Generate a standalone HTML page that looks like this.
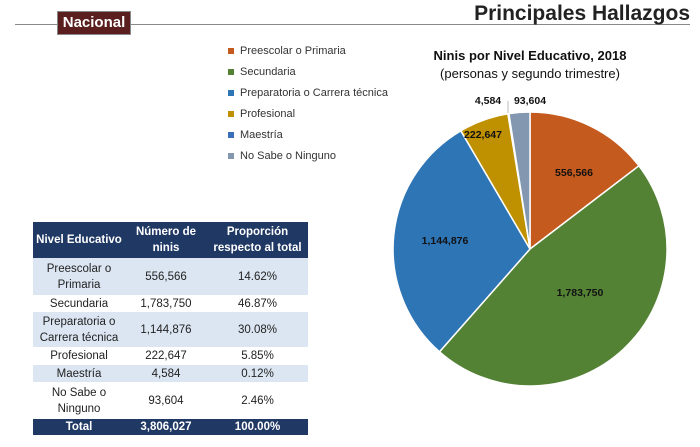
<!DOCTYPE html>
<html><head><meta charset="utf-8"><style>
body{margin:0;width:700px;height:447px;background:#fff;font-family:"Liberation Sans",sans-serif;position:relative;overflow:hidden}
.abs{position:absolute}
table{border-collapse:collapse;font-size:11.5px;color:#222}
td{text-align:center;padding:0;line-height:16px}
</style></head><body>
<div class="abs" style="left:15px;top:24px;width:675px;height:1px;background:#888"></div>
<div class="abs" style="left:57px;top:11px;width:72px;height:22px;background:#5a1e1e;border:1px solid #888;color:#fff;font-weight:bold;font-size:15px;line-height:22px;text-align:center">Nacional</div>
<div class="abs" style="left:440px;top:1px;width:250px;text-align:right;font-size:21px;font-weight:bold;color:#222;line-height:26px">Principales Hallazgos</div>

<div class="abs" style="left:228px;top:41px;font-size:11px;color:#333;line-height:21px">
<div><span style="display:inline-block;width:6px;height:6px;background:#c55a1e;margin-right:6px"></span>Preescolar o Primaria</div>
<div><span style="display:inline-block;width:6px;height:6px;background:#548235;margin-right:6px"></span>Secundaria</div>
<div><span style="display:inline-block;width:6px;height:6px;background:#2e75b6;margin-right:6px"></span>Preparatoria o Carrera técnica</div>
<div><span style="display:inline-block;width:6px;height:6px;background:#bf9000;margin-right:6px"></span>Profesional</div>
<div><span style="display:inline-block;width:6px;height:6px;background:#3a6fb8;margin-right:6px"></span>Maestría</div>
<div><span style="display:inline-block;width:6px;height:6px;background:#8497b0;margin-right:6px"></span>No Sabe o Ninguno</div>
</div>
<div class="abs" style="left:400px;top:47px;width:260px;text-align:center;font-size:13px;color:#111;line-height:18px"><b>Ninis por Nivel Educativo, 2018</b><br><span style="font-size:13px">(personas y segundo trimestre)</span></div>

<svg class="abs" style="left:0;top:0" width="700" height="447">
<g stroke="#fff" stroke-width="1.5">
<path d="M530,249 L530,112 A137,137 0 0 1 638.9,165.8 Z" fill="#c55a1e"/>
<path d="M530,249 L638.9,165.8 A137,137 0 0 1 439.5,351.8 Z" fill="#548235"/>
<path d="M530,249 L439.5,351.8 A137,137 0 0 1 460.8,130.8 Z" fill="#2e75b6"/>
<path d="M530,249 L460.8,130.8 A137,137 0 0 1 507.9,113.8 Z" fill="#bf9000"/>
<path d="M530,249 L507.9,113.8 A137,137 0 0 1 508.9,113.6 Z" fill="#3a6fb8"/>
<path d="M530,249 L508.9,113.6 A137,137 0 0 1 530,112 Z" fill="#8497b0"/>
</g>
<line x1="508" y1="113" x2="508" y2="101" stroke="#bbb"/>
<g font-family="Liberation Sans,sans-serif" font-size="10.5" font-weight="bold" fill="#111" text-anchor="middle">
<text x="574" y="176">556,566</text>
<text x="580" y="296">1,783,750</text>
<text x="445" y="244">1,144,876</text>
<text x="483" y="138">222,647</text>
<text x="488" y="104">4,584</text>
<text x="530" y="104">93,604</text>
</g>
</svg>

<table class="abs" style="left:33px;top:222px;width:275px">
<tr style="background:#1f3864;color:#fff;font-weight:bold;height:36px"><td style="width:92px">Nivel Educativo</td><td style="width:82px">Número de<br>ninis</td><td>Proporción<br>respecto al total</td></tr>
<tr style="background:#dce6f2;height:37px"><td>Preescolar o<br>Primaria</td><td>556,566</td><td>14.62%</td></tr>
<tr style="height:17px"><td>Secundaria</td><td>1,783,750</td><td>46.87%</td></tr>
<tr style="background:#dce6f2;height:35px"><td>Preparatoria o<br>Carrera técnica</td><td>1,144,876</td><td>30.08%</td></tr>
<tr style="height:18px"><td>Profesional</td><td>222,647</td><td>5.85%</td></tr>
<tr style="background:#dce6f2;height:17px"><td>Maestría</td><td>4,584</td><td>0.12%</td></tr>
<tr style="height:37px"><td>No Sabe o<br>Ninguno</td><td>93,604</td><td>2.46%</td></tr>
<tr style="background:#1f3864;color:#fff;font-weight:bold;height:16px"><td>Total</td><td>3,806,027</td><td>100.00%</td></tr>
</table>
</body></html>
